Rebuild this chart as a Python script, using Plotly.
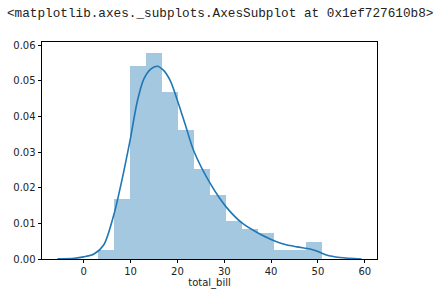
import plotly.graph_objects as go

# Histogram bins (edges) and density heights
bin_edges = [3.07, 6.48, 9.89, 13.30, 16.71, 20.12, 23.53, 26.94, 30.35,
             33.76, 37.17, 40.58, 43.99, 47.40, 50.81]
densities = [0.0024, 0.0168, 0.0541, 0.0577, 0.0469, 0.0361, 0.0252,
             0.0180, 0.0108, 0.0084, 0.0072, 0.0024, 0.0024, 0.0048]

# KDE curve points
kde_x = [-5.6, -2.0, 0.0, 2.2, 4.3, 6.45, 8.1, 9.4, 10.0, 11.4, 12.8, 14.3,
         15.7, 17.0, 18.45, 20.0, 21.8, 23.5, 27.0, 30.35, 33.7, 37.2, 40.0,
         42.6, 45.5, 48.3, 50.0, 51.8, 54.7, 59.3]
kde_y = [0.00003, 0.0002, 0.0006, 0.0014, 0.0040, 0.0125, 0.0218, 0.0300,
         0.0340, 0.0440, 0.0504, 0.0533, 0.0541, 0.0530, 0.0501, 0.0445,
         0.0372, 0.0303, 0.0212, 0.0147, 0.0102, 0.0073, 0.0055, 0.0042,
         0.0034, 0.0028, 0.0021, 0.0011, 0.0004, 0.00002]

x_ticks = [0, 10, 20, 30, 40, 50, 60]
y_ticks = [0.00, 0.01, 0.02, 0.03, 0.04, 0.05, 0.06]

title_text = "<matplotlib.axes._subplots.AxesSubplot at 0x1ef727610b8>"
x_label = "total_bill"

centers = [(a + b) / 2 for a, b in zip(bin_edges[:-1], bin_edges[1:])]
widths = [b - a for a, b in zip(bin_edges[:-1], bin_edges[1:])]

fig = go.Figure()
fig.add_trace(go.Bar(x=centers, y=densities, width=widths,
                     marker=dict(color="#1f77b4", line=dict(width=0)),
                     opacity=0.4, showlegend=False, hoverinfo="skip"))
fig.add_trace(go.Scatter(x=kde_x, y=kde_y, mode="lines",
                         line=dict(color="#1f77b4", width=1.6, shape="spline",
                                   smoothing=0.8),
                         showlegend=False, hoverinfo="skip"))

axis_common = dict(showline=True, linecolor="#000000", linewidth=0.8,
                   mirror=True, showgrid=False, zeroline=False,
                   ticks="outside", ticklen=3.5, tickwidth=0.8,
                   tickcolor="#000000",
                   tickfont=dict(family="DejaVu Sans", size=10, color="#222222"))

fig.update_layout(
    width=448, height=308,
    margin=dict(l=42, r=71, t=42, b=49),
    paper_bgcolor="white", plot_bgcolor="white",
    bargap=0,
    title=dict(text=title_text, xref="container", yref="container",
               x=7 / 448, xanchor="left", y=1 - 12.5 / 308, yanchor="middle",
               font=dict(family="Liberation Mono", size=12.7, color="#222222")),
    xaxis=dict(range=[-8.9, 62.6], tickvals=x_ticks,
               ticktext=[str(v) for v in x_ticks],
               title=dict(text=x_label, standoff=2,
                          font=dict(family="DejaVu Sans", size=10, color="#222222")),
               **axis_common),
    yaxis=dict(range=[0, 0.0609], tickvals=y_ticks,
               ticktext=[f"{v:.2f}" for v in y_ticks],
               **axis_common),
)

fig.write_html("out.html")
